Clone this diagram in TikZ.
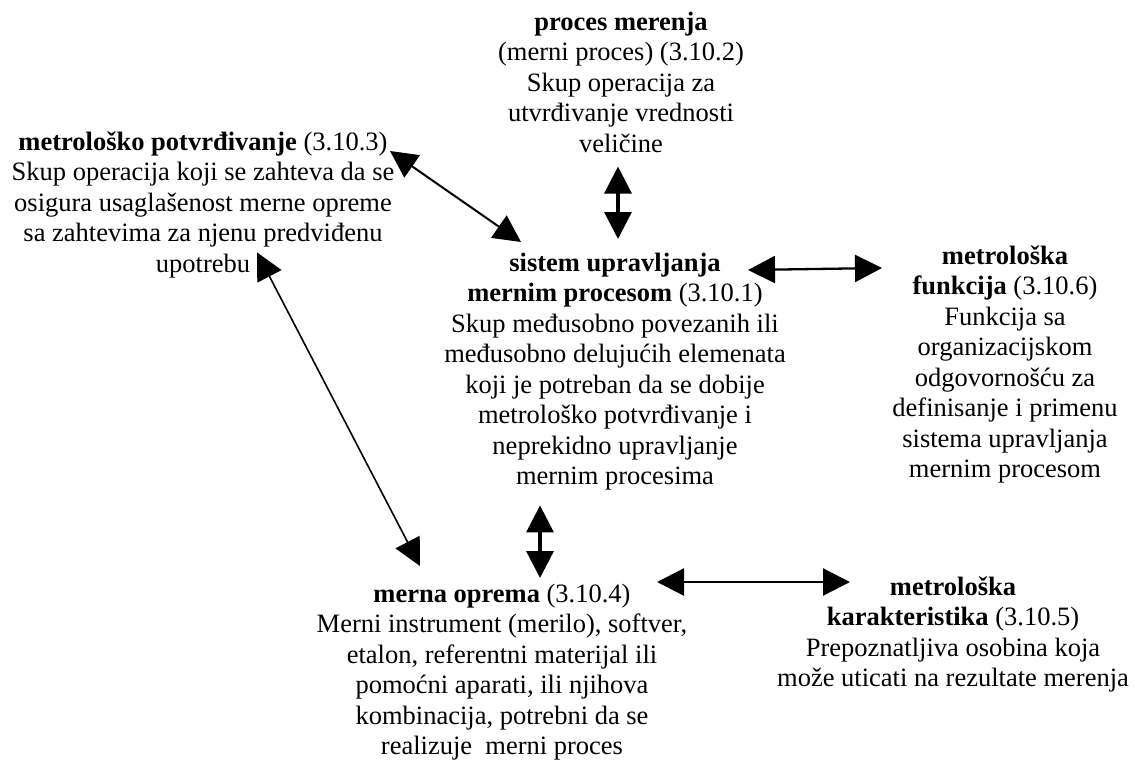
\documentclass[tikz,border=0pt]{standalone}
\usepackage{fontspec}
\setmainfont{Liberation Serif}
\usetikzlibrary{arrows.meta}
\tikzset{
  term/.style={align=center, inner sep=0pt, anchor=north,
    font=\fontsize{26.5}{30.5}\selectfont},
  link/.style={{Triangle[length=27pt,width=27pt]}-{Triangle[length=27pt,width=27pt]},
    line width=#1},
  link/.default=2pt
}
\begin{document}
\begin{tikzpicture}[x=1pt,y=-1pt]
\useasboundingbox (0,0) rectangle (1135,760);

% concepts
\node[term] (proc) at (621,8.65) {\strut\textbf{proces merenja}\\
  (merni proces) (3.10.2)\\
  Skup operacija za\\
  utvrđivanje vrednosti\\
  veličine\strut};

\node[term] (conf) at (203,128.65) {\strut\textbf{metrološko potvrđivanje} (3.10.3)\\
  Skup operacija koji se zahteva da se\\
  osigura usaglašenost merne opreme\\
  sa zahtevima za njenu predviđenu\\
  upotrebu\strut};

\node[term] (sys) at (615,249.65) {\strut\textbf{sistem upravljanja}\\
  \textbf{mernim procesom} (3.10.1)\\
  Skup međusobno povezanih ili\\
  međusobno delujućih elemenata\\
  koji je potreban da se dobije\\
  metrološko potvrđivanje i\\
  neprekidno upravljanje\\
  mernim procesima\strut};

\node[term] (func) at (1005,242.65) {\strut\textbf{metrološka}\\
  \textbf{funkcija} (3.10.6)\\
  Funkcija sa\\
  organizacijskom\\
  odgovornošću za\\
  definisanje i primenu\\
  sistema upravljanja\\
  mernim procesom\strut};

\node[term] (opr) at (502,580.65) {\strut\textbf{merna oprema} (3.10.4)\\
  Merni instrument (merilo), softver,\\
  etalon, referentni materijal ili\\
  pomoćni aparati, ili njihova\\
  kombinacija, potrebni da se\\
  realizuje\ \ merni proces\strut};

\node[term] (char) at (953,573.65) {\strut\textbf{metrološka}\\
  \textbf{karakteristika} (3.10.5)\\
  Prepoznatljiva osobina koja\\
  može uticati na rezultate merenja\strut};

% relations
\draw[link=3.3pt] ([shift={(-3pt,-5pt)}]proc.south) -- ([shift={(3pt,10.65pt)}]sys.north);
\draw[link=3.3pt] ([shift={(-75pt,-11.35pt)}]sys.south) -- ([shift={(38pt,2.65pt)}]opr.north);
\draw[link=2pt] ([shift={(187pt,-22.35pt)}]conf.north) -- ([shift={(-94pt,7.65pt)}]sys.north);
\draw[link=1.6pt] ([shift={(54pt,29.15pt)}]conf.south) -- ([shift={(-82pt,14.65pt)}]opr.north);
\draw[link=2.3pt] ([shift={(133pt,-20.35pt)}]sys.north) -- ([shift={(-123pt,-25.35pt)}]func.north);
\draw[link=2.3pt] ([shift={(155pt,-1.35pt)}]opr.north) -- ([shift={(-103pt,-8.35pt)}]char.north);
\end{tikzpicture}
\end{document}
